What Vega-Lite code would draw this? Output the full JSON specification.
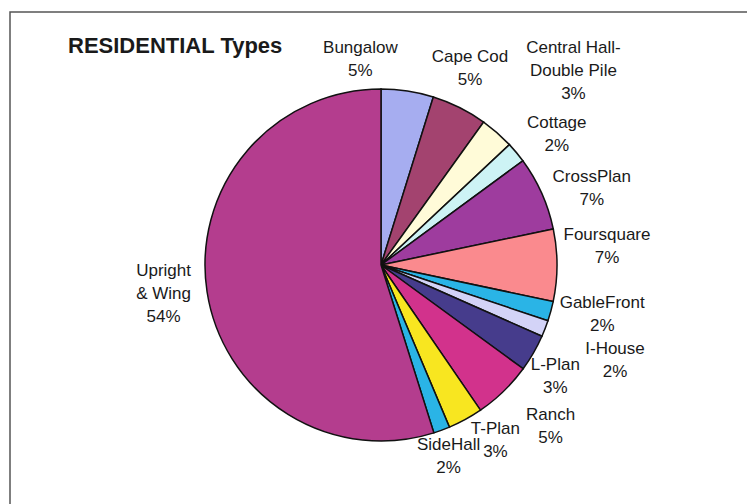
{
  "$schema": "https://vega.github.io/schema/vega-lite/v6.json",
  "width": 742,
  "height": 506,
  "padding": {"left": 10, "top": 12, "right": 0, "bottom": 0},
  "autosize": {"type": "none"},
  "background": "white",
  "view": {"stroke": "#555555", "strokeWidth": 1.5, "fill": "white"},
  "title": {
    "text": "RESIDENTIAL Types",
    "anchor": "start",
    "orient": "top",
    "offset": -46,
    "dx": 58,
    "font": "Liberation Sans",
    "fontSize": 22,
    "fontWeight": "bold",
    "color": "#1a1a1a"
  },
  "data": {
    "values": [
      {"idx": 1, "type": "Bungalow", "value": 4.8, "label": "Bungalow\n5%"},
      {"idx": 2, "type": "Cape Cod", "value": 5.1, "label": "Cape Cod\n5%"},
      {"idx": 3, "type": "Central Hall-Double Pile", "value": 3.1, "label": "Central Hall-\nDouble Pile\n3%"},
      {"idx": 4, "type": "Cottage", "value": 1.9, "label": "Cottage\n2%"},
      {"idx": 5, "type": "CrossPlan", "value": 6.8, "label": "CrossPlan\n7%"},
      {"idx": 6, "type": "Foursquare", "value": 6.6, "label": "Foursquare\n7%"},
      {"idx": 7, "type": "GableFront", "value": 1.8, "label": "GableFront\n2%"},
      {"idx": 8, "type": "I-House", "value": 1.5, "label": "I-House\n2%"},
      {"idx": 9, "type": "L-Plan", "value": 3.4, "label": "L-Plan\n3%"},
      {"idx": 10, "type": "Ranch", "value": 5.4, "label": "Ranch\n5%"},
      {"idx": 11, "type": "T-Plan", "value": 3.2, "label": "T-Plan\n3%"},
      {"idx": 12, "type": "SideHall", "value": 1.5, "label": "SideHall\n2%"},
      {"idx": 13, "type": "Upright & Wing", "value": 54.8, "label": "Upright\n& Wing\n54%"}
    ]
  },
  "encoding": {
    "theta": {"field": "value", "type": "quantitative", "stack": true},
    "order": {"field": "idx", "type": "quantitative"}
  },
  "layer": [
    {
      "mark": {"type": "arc", "outerRadius": 176, "stroke": "#111111", "strokeWidth": 1.5},
      "encoding": {
        "color": {
          "field": "type",
          "type": "nominal",
          "legend": null,
          "scale": {
            "domain": ["Bungalow", "Cape Cod", "Central Hall-Double Pile", "Cottage", "CrossPlan", "Foursquare", "GableFront", "I-House", "L-Plan", "Ranch", "T-Plan", "SideHall", "Upright & Wing"],
            "range": ["#a6adf0", "#a3436f", "#fffbd8", "#cdf3f5", "#9e3c9e", "#fa8a8e", "#2ab4e6", "#d3d3f7", "#463c8c", "#d2328c", "#f8e620", "#2ab4e6", "#b43d8e"]
          }
        }
      }
    },
    {
      "mark": {
        "type": "text",
        "radius": 222,
        "font": "Liberation Sans",
        "fontSize": 17,
        "lineHeight": 23,
        "lineBreak": "\n",
        "color": "#1a1a1a",
        "align": "center",
        "baseline": "middle",
        "dx": {"expr": "[0,-54,-10,46,5,8,4,7,27,-18,15,8,-9,2][datum.idx]"},
        "dy": {"expr": "[0,2,-9,-50,0,2,-30,-20,4,-11,-9,-31,-28,-28][datum.idx]"}
      },
      "encoding": {
        "text": {"field": "label", "type": "nominal"}
      }
    }
  ]
}
